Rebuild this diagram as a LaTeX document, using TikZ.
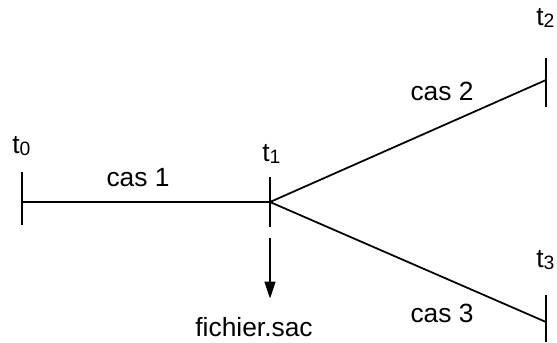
\documentclass[tikz,border=0pt]{standalone}
\usepackage{fontspec}
\setmainfont{Liberation Sans}
\usetikzlibrary{arrows.meta}

\newcommand{\tlbl}[1]{t{\fontsize{11}{11}\selectfont\raisebox{-0.2ex}{#1}}}

\begin{document}
\begin{tikzpicture}[x=0.02cm,y=-0.02cm,
		lbl/.style={inner sep=0pt,anchor=base west,font=\fontsize{15}{17}\selectfont},
		branch/.style={line width=1pt},
		tickline/.style={line width=0.8pt}]
	\useasboundingbox (0,0) rectangle (557,342);
	% time points
	\coordinate (t0) at (22,202);
	\coordinate (t1) at (270,202);
	\coordinate (t2) at (546,80);
	\coordinate (t3) at (546,322);
	% ticks
	\foreach \p/\a/\b in {t0/30/23,t1/25/25,t2/22/27,t3/27/20}{
		\draw[tickline] (\p) ++(0,-\a) -- ++(0,{\a+\b});
	}
	% branches
	\draw[branch] (t0) -- (t1);
	\draw[branch] (t1) -- (t2);
	\draw[branch] (t1) -- (t3);
	% labels
	\node[lbl] (lt0) at (12,153) {\tlbl{0}};
	\node[lbl] (lt1) at (262,161) {\tlbl{1}};
	\node[lbl] (lt2) at (536,25) {\tlbl{2}};
	\node[lbl] (lt3) at (536,267) {\tlbl{3}};
	\node[lbl,anchor=base] (cas1) at (138,186) {cas 1};
	\node[lbl,anchor=base] (cas2) at (442,100) {cas 2};
	\node[lbl,anchor=base] (cas3) at (442,322) {cas 3};
	% output file
	\node[lbl,anchor=base] (sac) at (254,336) {fichier.sac};
	\coordinate (out) at (270,238);
	\draw[line width=0.9pt,-{Triangle[length=3.4mm,width=2.2mm]},shorten >=3.6mm] (out) -- (out |- sac.north);
\end{tikzpicture}
\end{document}
